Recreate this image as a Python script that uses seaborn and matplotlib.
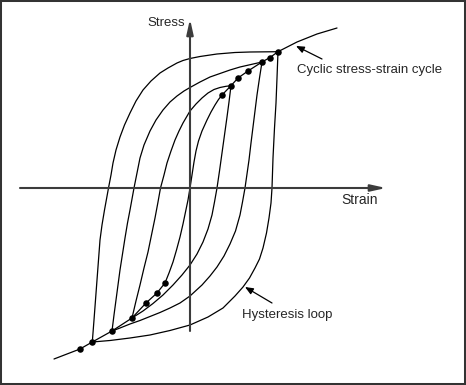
import matplotlib
matplotlib.use("Agg")
import matplotlib.pyplot as plt
from matplotlib.patches import Rectangle
import seaborn as sns
import pandas as pd

# ---- data (strain, stress), origin at axes crossing ----
outer_left_x = [-97.7, -96, -94.5, -93, -91.5, -90, -88, -85.5, -81.5, -79, -77, -74, -70, -65.5,
                -60, -54, -47, -39, -30, -22, -13, -7, 0, 10, 27, 45, 60, 88]
outer_left_y = [-154, -132, -112, -92, -72, -52, -37, -22, 0, 13, 25, 38, 51, 63,
                75, 87, 98, 107, 115, 120, 125, 127.5, 129.5, 131.5, 134, 135.5, 136, 136.3]
outer_right_x = [88, 87, 86, 84.5, 83, 82, 81, 79, 76.5, 73, 69.5, 65, 59.5, 53, 45, 33, 18, 0,
                 -20, -40, -60, -80, -97.7]
outer_right_y = [136.3, 110, 85, 60, 30, 0, -15, -30, -45, -60, -71, -80, -90, -99, -108, -120,
                 -129, -137, -142.5, -147, -150, -152.5, -154]

loop2_left_x = [-78, -76, -74, -72, -70, -67.5, -65, -62.5, -60, -58, -56, -53, -50, -46, -40, -34,
                -27, -20, -13, -6, 0, 10, 20, 30, 40, 50, 61, 72]
loop2_left_y = [-143, -127, -112, -97, -82, -66, -50, -35, -22, -11, 0, 15, 30, 43, 57, 68,
                78, 86, 92, 97, 100.5, 106, 111, 114.5, 118, 121, 123.5, 126]
loop2_right_x = [72, 69.5, 67, 65, 63, 61, 59, 57, 55, 52.5, 50, 45.5, 40, 34, 27, 20, 12, 0, -10,
                 -20, -30, -40, -50, -60, -70, -78]
loop2_right_y = [126, 110, 93, 77, 61, 45, 28, 14, 0, -14, -27, -43, -56, -68, -79, -88, -97, -108,
                 -115, -120, -124.5, -128.5, -132.5, -136, -140, -143]

loop3_left_x = [-58, -54, -50, -46, -42, -38.5, -35, -32, -29.5, -26, -23, -19, -15, -11, -7, -3.5,
                0, 6, 12, 18, 24, 30, 36, 41]
loop3_left_y = [-130, -113, -97, -80, -64, -47, -30, -14, 0, 13, 25, 37, 48, 57, 65, 71,
                77, 84, 90, 95, 98.5, 100.5, 101.7, 102.3]
loop3_right_x = [41, 39, 37, 34.5, 32, 29.5, 27, 24.5, 22, 18, 13, 7, 0, -8, -17, -27, -37, -47, -58]
loop3_right_y = [102.3, 86, 71, 53, 35, 17, 0, -14, -27, -41, -54, -66, -77, -87, -97, -107, -115.5,
                 -123, -130]

inner_x = [-25, -21, -17, -13.5, -10, -7, -4.5, -2, 0, 2, 4, 6, 8.5, 12, 17, 21, 25, 28.5, 32]
inner_y = [-95, -85, -74, -62, -49, -36, -24, -12, 0, 13, 26, 37, 47, 57, 68, 76, 83, 88.5, 93]

cyclic_low_x = [-136, -110, -97.7, -78, -58, -44, -33, -25]
cyclic_low_y = [-171, -161, -154, -143, -130, -115, -105, -95]
cyclic_high_x = [32, 41, 48, 58, 72, 80, 88, 107, 127, 147]
cyclic_high_y = [93, 102.3, 110, 117, 126, 130.5, 136.3, 146, 154, 160]

dots_x = [-110, -97.7, -78, -58, -44, -33, -25, 32, 41, 48, 58, 72, 80, 88]
dots_y = [-161, -154, -143, -130, -115, -105, -95, 93, 102.3, 110, 117, 126, 130.5, 136.3]

branches = {
    "outer_left": (outer_left_x, outer_left_y),
    "outer_right": (outer_right_x, outer_right_y),
    "loop2_left": (loop2_left_x, loop2_left_y),
    "loop2_right": (loop2_right_x, loop2_right_y),
    "loop3_left": (loop3_left_x, loop3_left_y),
    "loop3_right": (loop3_right_x, loop3_right_y),
    "inner": (inner_x, inner_y),
    "cyclic_low": (cyclic_low_x, cyclic_low_y),
    "cyclic_high": (cyclic_high_x, cyclic_high_y),
}

rows = []
for name, (xs, ys) in branches.items():
    for i, (xv, yv) in enumerate(zip(xs, ys)):
        rows.append({"branch": name, "order": i, "strain": xv, "stress": yv})
df = pd.DataFrame(rows)
dots = pd.DataFrame({"strain": dots_x, "stress": dots_y})

sns.set_style("white")
plt.rcParams["font.family"] = ["Liberation Sans", "DejaVu Sans"]

fig = plt.figure(figsize=(4.66, 3.85), dpi=100)
ax = fig.add_axes([0, 0, 1, 1])
ax.set_xlim(-190, 276)
ax.set_ylim(-197, 188)

axis_color = "#3c3c3c"
ax.annotate("", xy=(196, 0), xytext=(-170, 0),
            arrowprops=dict(arrowstyle="-|>,head_length=0.9,head_width=0.2",
                            lw=1.5, color=axis_color, mutation_scale=10,
                            shrinkA=0, shrinkB=0))
ax.annotate("", xy=(0, 169), xytext=(0, -143),
            arrowprops=dict(arrowstyle="-|>,head_length=0.9,head_width=0.2",
                            lw=1.5, color=axis_color, mutation_scale=10,
                            shrinkA=0, shrinkB=0))

for name in branches:
    sub = df[df["branch"] == name]
    sns.lineplot(data=sub, x="strain", y="stress", sort=False, estimator=None,
                 color="black", lw=0.9, ax=ax, legend=False)

sns.scatterplot(data=dots, x="strain", y="stress", color="black", s=22,
                edgecolor="black", linewidth=0, ax=ax, legend=False, zorder=5)
ax.set_xlabel("")
ax.set_ylabel("")
ax.axis("off")

ax.text(-24, 165, "Stress", ha="center", va="center", fontsize=9.5)
ax.text(169.5, -12, "Strain", ha="center", va="center", fontsize=10)
ax.text(107, 118, "Cyclic stress-strain cycle", ha="left", va="center", fontsize=9.5)
ax.text(52, -127, "Hysteresis loop", ha="left", va="center", fontsize=9.5)

ax.annotate("", xy=(106, 142), xytext=(132, 129),
            arrowprops=dict(arrowstyle="-|>,head_length=0.6,head_width=0.25",
                            lw=0.9, color="black", mutation_scale=8,
                            shrinkA=0, shrinkB=0))
ax.annotate("", xy=(55, -99), xytext=(82, -115),
            arrowprops=dict(arrowstyle="-|>,head_length=0.6,head_width=0.25",
                            lw=0.9, color="black", mutation_scale=8,
                            shrinkA=0, shrinkB=0))

fig.patches.append(Rectangle((0, 0), 1, 1, transform=fig.transFigure, fill=False,
                             lw=2.9, edgecolor="#333333"))

fig.savefig("out.png", dpi=100)
